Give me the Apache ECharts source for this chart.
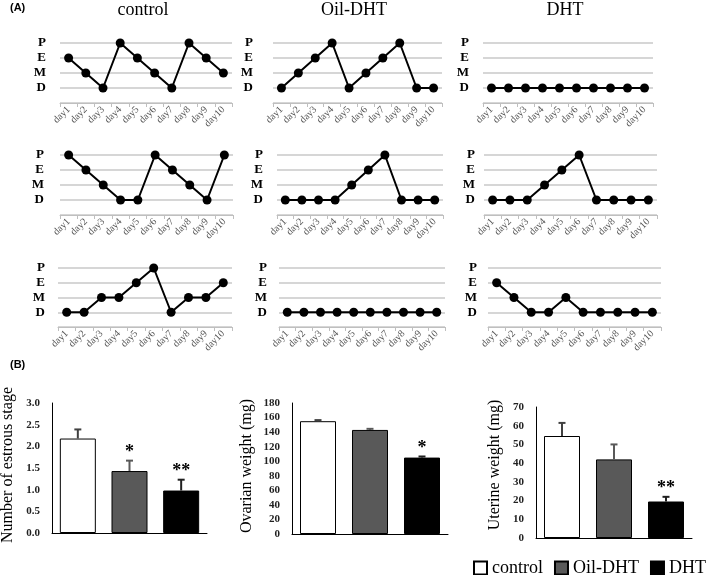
<!DOCTYPE html>
<html><head><meta charset="utf-8">
<script src="https://cdn.jsdelivr.net/npm/echarts@6/dist/echarts.min.js"></script>
<style>html,body{margin:0;padding:0;background:#fff}#c{width:709px;height:575px}</style>
</head><body><div id="c"></div>
<script>
// ---------------- DATA ----------------
const days = ['day1','day2','day3','day4','day5','day6','day7','day8','day9','day10'];
const stageTicks = ['', 'D', 'M', 'E', 'P'];   // 1=D, 2=M, 3=E, 4=P
const groups = ['control', 'Oil-DHT', 'DHT'];

// (A) estrous stage per day, three animals per group
const control1 = [3,2,1,4,3,2,1,4,3,2];
const control2 = [4,3,2,1,1,4,3,2,1,4];
const control3 = [1,1,2,2,3,4,1,2,2,3];
const oilDHT1  = [1,2,3,4,1,2,3,4,1,1];
const oilDHT2  = [1,1,1,1,2,3,4,1,1,1];
const oilDHT3  = [1,1,1,1,1,1,1,1,1,1];
const dht1     = [1,1,1,1,1,1,1,1,1,1];
const dht2     = [1,1,1,2,3,4,1,1,1,1];
const dht3     = [3,2,1,1,2,1,1,1,1,1];

// (B) bar charts: mean and SD per group
const estrousMean = [2.18, 1.43, 0.98];
const estrousSD   = [0.21, 0.24, 0.25];
const estrousSig  = ['', '*', '**'];
const ovarianMean = [155, 143, 105];
const ovarianSD   = [1.5, 1.5, 1.5];
const ovarianSig  = ['', '', '*'];
const uterineMean = [54.5, 42, 19.5];
const uterineSD   = [7, 8, 2.5];
const uterineSig  = ['', '', '**'];

// ---------------- LAYOUT / STYLE ----------------
const SERIF = '"Liberation Serif", "Times New Roman", serif';
const lineRows = [
  [control1, oilDHT1, dht1],
  [control2, oilDHT2, dht2],
  [control3, oilDHT3, dht3]
];
const rowBox = [{top: 43, height: 60}, {top: 155, height: 60}, {top: 268, height: 59}];
const colBox = [
  [{l: 60, r: 232, m: 14}, {l: 273, r: 442, m: 20}, {l: 483, r: 653, m: 14}],
  [{l: 60, r: 233, m: 16}, {l: 277, r: 443, m: 14}, {l: 484, r: 657, m: 9}],
  [{l: 58, r: 232, m: 13}, {l: 279, r: 445, m: 12}, {l: 488, r: 661, m: 11}]
];
const barFill = ['#ffffff', '#595959', '#000000'];
const errColor = ['#404040', '#595959', '#202020'];

const bars = [
  {mean: estrousMean, sd: estrousSD, sig: estrousSig, min: 0, max: 3, interval: 0.5, dec: 1,
   box: {l: 52, r: 207, top: 403, bottom: 533}},
  {mean: ovarianMean, sd: ovarianSD, sig: ovarianSig, min: 0, max: 180, interval: 20, dec: 0,
   box: {l: 292, r: 448, top: 403, bottom: 534}},
  {mean: uterineMean, sd: uterineSD, sig: uterineSig, min: 0, max: 70, interval: 10, dec: 0,
   box: {l: 536, r: 692, top: 407, bottom: 538}}
];

const grid = [], xAxis = [], yAxis = [], series = [];

// line panels
lineRows.forEach((row, r) => {
  row.forEach((vals, c) => {
    const b = colBox[r][c];
    const gi = grid.length;
    grid.push({left: b.l, top: rowBox[r].top, width: b.r - b.l, height: rowBox[r].height, containLabel: false});
    xAxis.push({
      gridIndex: gi, type: 'category', data: days, boundaryGap: true,
      axisLine: {show: true, lineStyle: {color: '#bfbfbf', width: 1}},
      axisTick: {show: true, length: 4, lineStyle: {color: '#bfbfbf'}},
      axisLabel: {interval: 0, rotate: 45, fontFamily: SERIF, fontSize: 10, color: '#555', margin: 5}
    });
    yAxis.push({
      gridIndex: gi, type: 'value', min: 0, max: 4, interval: 1,
      axisLine: {show: false}, axisTick: {show: false},
      splitLine: {show: true, lineStyle: {color: '#c8c8c8', width: 1.5}},
      axisLabel: {formatter: v => stageTicks[v] || '', fontFamily: SERIF, fontWeight: 'bold',
                  fontSize: 13, color: '#000', margin: b.m}
    });
    series.push({
      type: 'line', xAxisIndex: gi, yAxisIndex: gi, data: vals,
      symbol: 'circle', symbolSize: 9, silent: true,
      lineStyle: {color: '#000', width: 2}, itemStyle: {color: '#000'}
    });
  });
});

// bar panels
bars.forEach((bc) => {
  const gi = grid.length;
  const b = bc.box;
  grid.push({left: b.l, top: b.top, width: b.r - b.l, height: b.bottom - b.top, containLabel: false});
  xAxis.push({
    gridIndex: gi, type: 'category', data: groups,
    axisLine: {show: true, lineStyle: {color: '#000', width: 1}},
    axisTick: {show: false}, axisLabel: {show: false}
  });
  yAxis.push({
    gridIndex: gi, type: 'value', min: bc.min, max: bc.max, interval: bc.interval,
    axisLine: {show: true, lineStyle: {color: '#000', width: 1}},
    axisTick: {show: false}, splitLine: {show: false},
    axisLabel: {formatter: v => v.toFixed(bc.dec), fontFamily: SERIF, fontSize: 11,
                fontWeight: 'bold', color: '#222', margin: 12}
  });
  groups.forEach((g, k) => {
    series.push({
      type: 'bar', name: g, xAxisIndex: gi, yAxisIndex: gi,
      data: bc.mean.map((v, j) => j === k ? v : '-'),
      barWidth: 36, barGap: '-100%',
      itemStyle: {color: barFill[k], borderColor: '#000', borderWidth: 1}
    });
  });
  series.push({
    type: 'custom', xAxisIndex: gi, yAxisIndex: gi, silent: true, z: 5,
    data: bc.mean.map((v, j) => [j, v, bc.sd[j]]),
    encode: {x: 0, y: 1},
    renderItem: (params, api) => {
      const i = params.dataIndex;
      const x = api.value(0), m = api.value(1), e = api.value(2);
      const p0 = api.coord([x, m]);
      const p1 = api.coord([x, m + e]);
      const cap = 3.5;
      const col = errColor[i];
      return {type: 'group', children: [
        {type: 'line', shape: {x1: p0[0], y1: p0[1], x2: p1[0], y2: p1[1]}, style: {stroke: col, lineWidth: 2}},
        {type: 'line', shape: {x1: p1[0] - cap, y1: p1[1], x2: p1[0] + cap, y2: p1[1]}, style: {stroke: col, lineWidth: 2}},
        {type: 'text', x: p1[0], y: p1[1] - 8, style: {text: bc.sig[i], fill: '#000', fontSize: 18,
          fontWeight: 'bold', fontFamily: SERIF, align: 'center', verticalAlign: 'middle'}}
      ]};
    }
  });
});

const txt = (t, x, y, o) => Object.assign({type: 'text', x: x, y: y,
  style: Object.assign({text: t, fill: '#000', fontFamily: SERIF, fontSize: 18, align: 'center', verticalAlign: 'middle'}, o || {})});

const graphic = [
  txt('(A)', 10, 8, {fontFamily: '"Liberation Sans", Arial, sans-serif', fontWeight: 'bold', fontSize: 11, align: 'left'}),
  txt('(B)', 10, 365, {fontFamily: '"Liberation Sans", Arial, sans-serif', fontWeight: 'bold', fontSize: 11, align: 'left'}),
  txt('control', 143, 10),
  txt('Oil-DHT', 354, 10),
  txt('DHT', 565, 10),
  Object.assign(txt('Number of estrous stage', 0, 0, {fontSize: 16}), {x: 8, y: 465, rotation: Math.PI / 2}),
  Object.assign(txt('Ovarian weight (mg)', 0, 0, {fontSize: 16}), {x: 247, y: 466, rotation: Math.PI / 2}),
  Object.assign(txt('Uterine weight (mg)', 0, 0, {fontSize: 16}), {x: 495, y: 465, rotation: Math.PI / 2})
];

const chart = echarts.init(document.getElementById('c'), null, {renderer: 'canvas'});
chart.setOption({
  animation: false,
  backgroundColor: '#fff',
  grid, xAxis, yAxis, series, graphic,
  legend: {
    data: groups, left: 473, top: 559, padding: 0, icon: 'rect', itemWidth: 13, itemHeight: 13, itemGap: 11,
    textStyle: {fontFamily: SERIF, fontSize: 18, color: '#000'}, selectedMode: false
  }
});
</script></body></html>
